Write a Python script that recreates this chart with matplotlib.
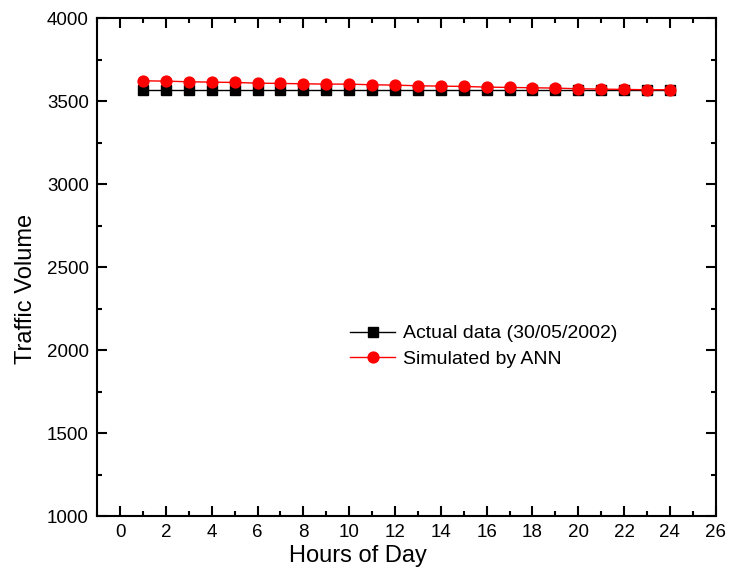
import numpy as np
import matplotlib
matplotlib.use('Agg')
import matplotlib.pyplot as plt
from matplotlib.ticker import MultipleLocator

plt.rcParams['font.family'] = ['Liberation Sans', 'DejaVu Sans']

hours = np.arange(1, 25)
actual = [3565] * 24
simulated = [3622, 3620, 3616, 3614, 3612, 3608, 3606, 3604, 3602, 3602, 3598, 3596,
             3592, 3590, 3588, 3584, 3582, 3580, 3578, 3574, 3572, 3570, 3568, 3568]

fig = plt.figure(figsize=(7.31, 5.75), dpi=100)
ax = fig.add_axes([0.133, 0.1026, 0.846, 0.866])

ax.plot(hours, actual, color='black', linewidth=1, marker='s', markersize=7,
        label='Actual data (30/05/2002)')
ax.plot(hours, simulated, color='red', linewidth=1, marker='o', markersize=7.8,
        label='Simulated by ANN')

ax.set_xlim(-1, 26)
ax.set_ylim(1000, 4000)
ax.xaxis.set_major_locator(MultipleLocator(2))
ax.xaxis.set_minor_locator(MultipleLocator(1))
ax.yaxis.set_major_locator(MultipleLocator(500))
ax.yaxis.set_minor_locator(MultipleLocator(250))
ax.tick_params(which='both', direction='in', top=True, right=True, width=1.5)
ax.tick_params(which='major', length=7, labelsize=13.5, pad=6)
ax.tick_params(which='minor', length=3.5)
for s in ax.spines.values():
    s.set_linewidth(1.5)

ax.set_xlabel('Hours of Day', fontsize=17)
ax.set_ylabel('Traffic Volume', fontsize=17)
ax.xaxis.set_label_coords(0.422, -0.058)
ax.yaxis.set_label_coords(-0.097, 0.456)

ax.legend(loc='center left', bbox_to_anchor=(0.381, 0.341), frameon=False,
          fontsize=14, handlelength=2.3, handletextpad=0.4, labelspacing=0.4)

fig.savefig('out.png', dpi=100)
